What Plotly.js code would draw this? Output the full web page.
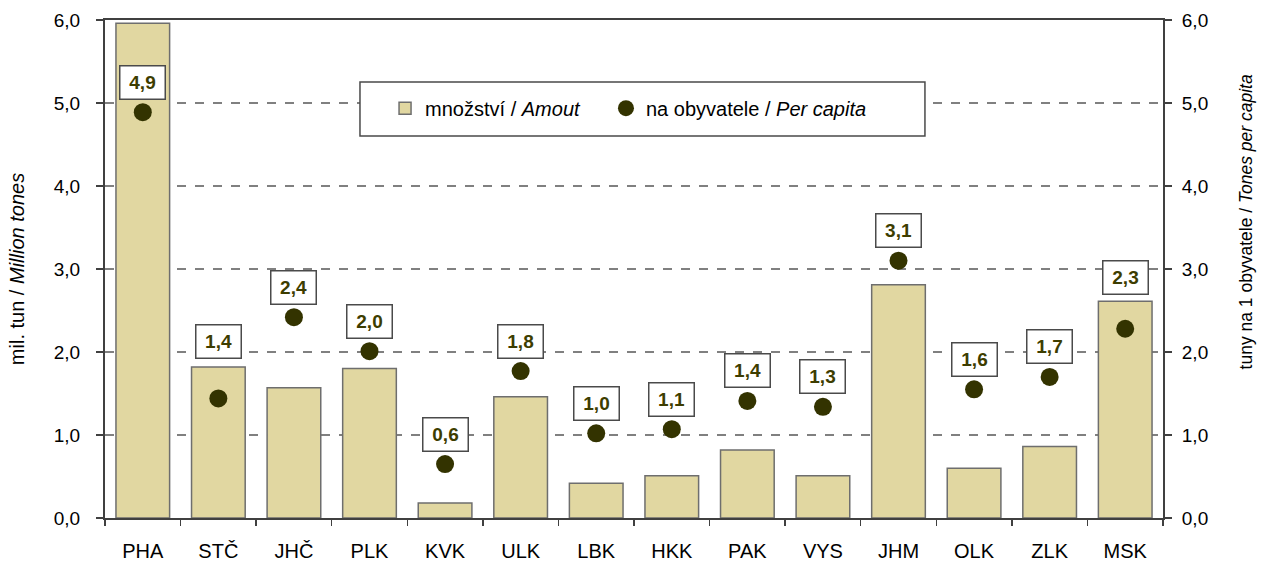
<!DOCTYPE html>
<html>
<head>
<meta charset="utf-8">
<script src="https://cdn.plot.ly/plotly-3.0.1.min.js"></script>
<style>html,body{margin:0;padding:0;background:#fff;}#chart{width:1274px;height:564px;}</style>
</head>
<body>
<div id="chart"></div>
<script>
var regions = ["PHA","STČ","JHČ","PLK","KVK","ULK","LBK","HKK","PAK","VYS","JHM","OLK","ZLK","MSK"];
var amount = [5.96,1.82,1.57,1.80,0.18,1.46,0.42,0.51,0.82,0.51,2.81,0.60,0.86,2.61];
var perCapita = [4.89,1.44,2.42,2.01,0.65,1.77,1.02,1.07,1.41,1.34,3.10,1.55,1.70,2.28];
var perCapitaLabels = ["4,9","1,4","2,4","2,0","0,6","1,8","1,0","1,1","1,4","1,3","3,1","1,6","1,7","2,3"];

var fontFam = '"Liberation Sans", Arial, sans-serif';
var labelShift = {"STČ": 57, "MSK": 51};

var traces = [
  {
    type: 'bar', x: regions, y: amount, yaxis: 'y', legend: 'legend',
    name: 'množství / <i>Amout</i>',
    marker: {color: '#e1d7a1', line: {color: '#6e6e6e', width: 1.5}},
    hoverinfo: 'x+y'
  },
  {
    type: 'scatter', mode: 'markers', x: regions, y: perCapita, yaxis: 'y2', legend: 'legend2',
    name: 'na obyvatele / <i>Per capita</i>',
    marker: {color: '#333300', size: 18}
  }
];

var annotations = regions.map(function(r, i) {
  return {
    x: r, y: perCapita[i], xref: 'x', yref: 'y2',
    text: '<b>' + perCapitaLabels[i] + '</b>',
    showarrow: false,
    yshift: labelShift[r] !== undefined ? labelShift[r] : 30,
    font: {family: fontFam, size: 19, color: '#3d3d00'},
    bgcolor: '#ffffff', bordercolor: '#4a4a4a', borderwidth: 1.5,
    borderpad: 3, width: 38, height: 26
  };
});

annotations.push({
  xref: 'paper', yref: 'paper', x: 1.090, y: 0.594,
  text: 'tuny na 1 obyvatele / <i>Tones per capita</i>',
  textangle: -90, showarrow: false,
  font: {family: fontFam, size: 17.5, color: '#000'}
});

var legendBase = {
  orientation: 'h', xanchor: 'left', y: 0.823, yanchor: 'middle',
  bgcolor: 'rgba(0,0,0,0)', borderwidth: 0, itemwidth: 30,
  font: {family: fontFam, size: 20, color: '#000'}
};

var layout = {
  width: 1274, height: 564,
  margin: {l: 105, r: 111, t: 20, b: 46},
  paper_bgcolor: '#ffffff', plot_bgcolor: '#ffffff',
  font: {family: fontFam, size: 18, color: '#000'},
  bargap: 0.29,
  showlegend: true,
  legend: Object.assign({}, legendBase, {x: 0.2647}),
  legend2: Object.assign({}, legendBase, {x: 0.4735}),
  xaxis: {
    type: 'category', range: [-0.5, 13.5], tickson: 'boundaries', ticks: 'outside', ticklen: 6, tickwidth: 1.5,
    tickcolor: '#404040', showline: true, linecolor: '#404040', linewidth: 2, mirror: true,
    showgrid: false, tickfont: {size: 20}, ticklabelstandoff: 14
  },
  yaxis: {
    range: [0, 6], dtick: 1, tickformat: '.1f', ticks: 'outside', ticklen: 7, tickwidth: 1.5,
    tickcolor: '#404040', showline: true, linecolor: '#404040', linewidth: 2,
    showgrid: true, gridcolor: '#808080', griddash: 'dash', gridwidth: 1.2,
    zeroline: false, tickfont: {size: 19}, ticklabelstandoff: 12,
    title: {text: 'mil. tun / <i>Million tones</i>', font: {size: 20}, standoff: 24}
  },
  yaxis2: {
    range: [0, 6], dtick: 1, tickformat: '.1f', overlaying: 'y', side: 'right',
    ticks: 'outside', ticklen: 7, tickwidth: 1.5, tickcolor: '#404040',
    showline: true, linecolor: '#404040', linewidth: 2, showgrid: false, zeroline: false,
    tickfont: {size: 19}, ticklabelstandoff: 6
  },
  separators: ', ',
  shapes: [{
    type: 'rect', xref: 'paper', yref: 'paper', layer: 'above',
    x0: 0.241, x1: 0.775, y0: 0.767, y1: 0.8755,
    fillcolor: '#ffffff', line: {color: '#4a4a4a', width: 1.5}
  }],
  annotations: annotations
};

Plotly.newPlot('chart', traces, layout, {displayModeBar: false, staticPlot: true});
</script>
</body>
</html>
